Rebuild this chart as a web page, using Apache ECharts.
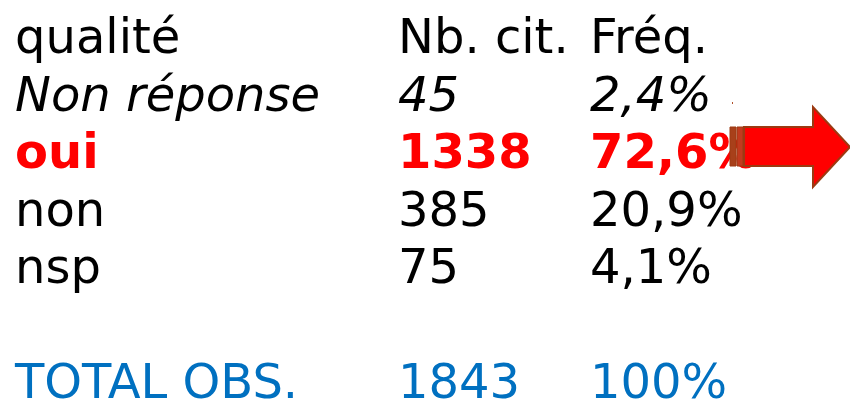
<!DOCTYPE html>
<html>
<head>
<meta charset="utf-8">
<script src="https://cdn.jsdelivr.net/npm/echarts@6/dist/echarts.min.js"></script>
<style>
  html, body { margin: 0; padding: 0; background: #fff; }
  #chart { width: 850px; height: 400px; }
</style>
</head>
<body>
<div id="chart"></div>
<script>
// table data
const headers = ['qualité', 'Nb. cit.', 'Fréq.'];
const categories = ['Non réponse', 'oui', 'non', 'nsp'];
const counts = [45, 1338, 385, 75];
const freqs = ['2,4%', '72,6%', '20,9%', '4,1%'];
const totalRow = ['TOTAL OBS.', 1843, '100%'];

// layout
const colX = [15, 398, 590];
const firstBaseline = 53;
const rowStep = 57.4;
const fontSize = 48;
const midOffset = 12; // baseline -> em middle

const chart = echarts.init(document.getElementById('chart'));

function cell(text, col, row, opts) {
  opts = opts || {};
  return {
    type: 'text',
    x: colX[col],
    y: firstBaseline + row * rowStep - midOffset,
    style: {
      text: String(text),
      fontFamily: 'DejaVu Sans',
      fontSize: fontSize,
      fontStyle: opts.italic ? 'italic' : 'normal',
      fontWeight: opts.bold ? 'bold' : 'normal',
      fill: opts.color || '#000',
      align: 'left',
      verticalAlign: 'middle'
    }
  };
}

const elements = [];
headers.forEach((h, c) => elements.push(cell(h, c, 0)));
categories.forEach((name, i) => {
  const opts = {
    italic: i === 0,
    bold: name === 'oui',
    color: name === 'oui' ? '#ff0000' : '#000'
  };
  elements.push(cell(name, 0, i + 1, opts));
  elements.push(cell(counts[i], 1, i + 1, opts));
  elements.push(cell(freqs[i], 2, i + 1, opts));
});
totalRow.forEach((t, c) => elements.push(cell(t, c, 6, { color: '#0070c0' })));

// arrow pointing right
elements.push({
  type: 'polygon',
  shape: {
    points: [[744, 127], [813, 127], [813, 107], [850, 147], [813, 187], [813, 166], [744, 166]]
  },
  style: { fill: '#ff0000', stroke: '#9c3a12', lineWidth: 2 }
});
elements.push({
  type: 'rect',
  shape: { x: 730, y: 127, width: 6, height: 39 },
  style: { fill: '#a8401a', stroke: '#9c3a12', lineWidth: 1 }
});
elements.push({
  type: 'rect',
  shape: { x: 737, y: 127, width: 6, height: 39 },
  style: { fill: '#c23a1e', stroke: '#9c3a12', lineWidth: 1 }
});
elements.push({
  type: 'rect',
  shape: { x: 732, y: 102, width: 1, height: 2 },
  style: { fill: '#b0502a' }
});

chart.setOption({
  backgroundColor: '#fff',
  animation: false,
  graphic: { elements: elements }
});
</script>
</body>
</html>
